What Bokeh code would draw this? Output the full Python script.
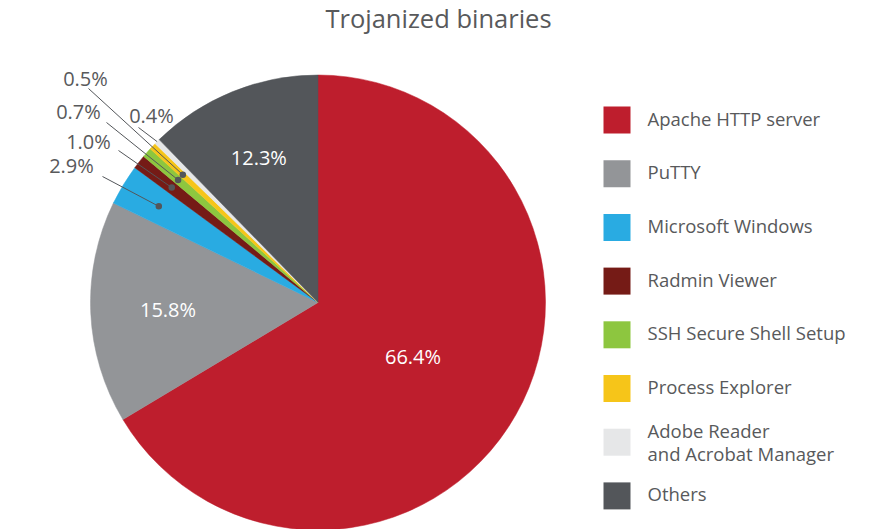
import math
from bokeh.plotting import figure
from bokeh.models import Range1d, ColumnDataSource
from bokeh.core.properties import value
from bokeh.embed import file_html
from bokeh.resources import INLINE

# ---- data ----
categories = ["Apache HTTP server", "PuTTY", "Microsoft Windows", "Radmin Viewer",
              "SSH Secure Shell Setup", "Process Explorer",
              "Adobe Reader\nand Acrobat Manager", "Others"]
shares = [66.4, 15.8, 2.9, 1.0, 0.7, 0.5, 0.4, 12.3]
colors = ["#BE1E2D", "#939598", "#29ABE2", "#751B16", "#8DC63F", "#F6C519", "#E6E7E8", "#53565A"]
title_text = "Trojanized binaries"

# ---- layout (picture pixels; data y = 529 - picture y) ----
W, H = 878, 529
def Y(py):
    return H - py

cx, cy, R = 317.5, Y(302), 227.5
FONT = value("Open Sans")
TXT = "#58595B"

# inside labels: fraction of radius for big slices
inside_r = {0: 0.48, 1: 0.66, 7: 0.69}
# outside labels: (text centre, leader start) in picture px
outside = {
    2: ((71, 165), (102, 176)),
    3: ((88, 141), (118, 150)),
    4: ((78, 111), (106, 122)),
    5: ((85, 78), (88, 88)),
    6: ((151, 115), (138, 127)),
}
dot_r = 186

p = figure(width=W, height=H, x_range=Range1d(0, W), y_range=Range1d(0, H),
           x_axis_type=None, y_axis_type=None, toolbar_location=None,
           output_backend="svg", min_border=0, outline_line_color=None,
           background_fill_color="white", border_fill_color="white")
p.grid.visible = False

total = sum(shares)
starts, ends, mids = [], [], []
cum = 0.0
for s in shares:
    a0 = math.radians(90 - 360 * cum / total)
    cum += s
    a1 = math.radians(90 - 360 * cum / total)
    starts.append(a0)
    ends.append(a1)
    mids.append((a0 + a1) / 2)

src = ColumnDataSource(dict(start=starts, end=ends, color=colors))
p.wedge(x=cx, y=cy, radius=R, start_angle="start", end_angle="end",
        direction="clock", fill_color="color", line_color="color", line_width=0.5, source=src)

# inside labels
ix, iy, it = [], [], []
for i, f in inside_r.items():
    ix.append(cx + f * R * math.cos(mids[i]))
    iy.append(cy + f * R * math.sin(mids[i]))
    it.append(f"{shares[i]:.1f}%")
p.text(x=ix, y=iy, text=it, text_align="center", text_baseline="middle",
       text_font=FONT, text_font_size="20px", text_color="white")

# outside labels with leaders
lx, ly, lt = [], [], []
dx, dy = [], []
for i, ((tx, ty), (sx, sy)) in outside.items():
    if i == 6:
        ex = cx + R * math.cos(mids[i])
        ey = cy + R * math.sin(mids[i])
    else:
        ex = cx + dot_r * math.cos(mids[i])
        ey = cy + dot_r * math.sin(mids[i])
        dx.append(ex)
        dy.append(ey)
    p.line([sx, ex], [Y(sy), ey], line_color="#53565A", line_width=1)
    lx.append(tx)
    ly.append(Y(ty))
    lt.append(f"{shares[i]:.1f}%")
p.scatter(x=dx, y=dy, size=6.5, marker="circle", fill_color="#53565A", line_color=None)
p.text(x=lx, y=ly, text=lt, text_align="center", text_baseline="middle",
       text_font=FONT, text_font_size="20px", text_color=TXT)

# legend
leg_y0, leg_step = 119.5, 53.7
sq_x, txt_x = 616.5, 647
sqy = [Y(leg_y0 + k * leg_step) for k in range(len(categories))]
p.rect(x=[sq_x] * len(categories), y=sqy, width=27, height=27,
       fill_color=colors, line_color=None)
for k, name in enumerate(categories):
    lines = name.split("\n")
    yc = leg_y0 + k * leg_step
    if len(lines) == 1:
        p.text(x=[txt_x], y=[Y(yc - 2)], text=[name], text_align="left",
               text_baseline="middle", text_font=FONT, text_font_size="18.5px", text_color=TXT)
    else:
        p.text(x=[txt_x, txt_x], y=[Y(yc - 12), Y(yc + 11)], text=lines, text_align="left",
               text_baseline="middle", text_font=FONT, text_font_size="18.5px", text_color=TXT)

# title
p.text(x=[438], y=[Y(17)], text=[title_text], text_align="center", text_baseline="middle",
       text_font=FONT, text_font_size="25.5px", text_color=TXT)

open("out.html", "w").write(file_html(p, INLINE))
